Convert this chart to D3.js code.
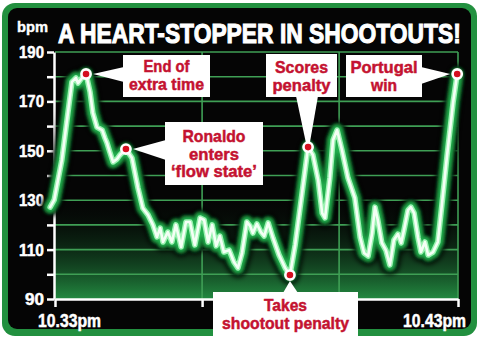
<!doctype html>
<html lang="en">
<head>
<meta charset="utf-8">
<title>A heart-stopper in shootouts</title>
<script src="https://d3js.org/d3.v7.min.js"></script>
<style>
  body { margin: 0; background: #fff; }
  svg text { font-family: 'Liberation Sans', Arial, sans-serif; font-weight: bold; }
</style>
</head>
<body>
<svg id="chart" width="480" height="341"></svg>
<script>
// heart rate, minutes after 10.33pm
var minutes = [-0.12, -0.02, 0.17, 0.42, 0.52, 0.57, 0.67, 0.77, 0.87, 0.94, 1.04, 1.17, 1.24, 1.29, 1.36, 1.44, 1.54, 1.61, 1.76,
  1.91, 2.06, 2.18, 2.31, 2.43, 2.53, 2.61, 2.68, 2.80, 2.90, 3.00, 3.13, 3.25, 3.35, 3.47, 3.60, 3.70, 3.80, 3.90, 4.00,
  4.09, 4.19, 4.32, 4.44, 4.54, 4.64, 4.76, 4.84, 4.91, 5.01, 5.11, 5.19, 5.29, 5.41, 5.56, 5.71, 5.83, 5.96, 6.13, 6.28,
  6.40, 6.53, 6.63, 6.70, 6.82, 6.90, 7.00, 7.12, 7.27, 7.44, 7.57, 7.67, 7.77, 7.87, 7.94, 8.01, 8.11, 8.21, 8.31, 8.41,
  8.51, 8.59, 8.66, 8.76, 8.83, 8.91, 9.01, 9.08, 9.18, 9.26, 9.38, 9.50, 9.60, 9.73, 9.88, 9.98];
var bpm = [127.2, 130.1, 146.3, 177.9, 179.5, 177.4, 179.5, 181.1, 173.8, 165.3, 159.6, 158.4, 155.2, 153.2, 149.5, 145.5, 146.7, 148.3, 150.7,
  147.1, 134.9, 126.8, 124.0, 120.0, 115.1, 118.7, 113.1, 117.1, 113.1, 120.0, 111.1, 121.2, 121.2, 111.9, 122.8, 122.0, 113.1, 120.0, 111.5,
  115.5, 109.0, 109.8, 105.0, 102.6, 108.6, 121.2, 119.6, 116.7, 120.4, 117.1, 115.5, 120.8, 114.7, 107.8, 102.6, 99.7, 111.9, 132.9, 151.5,
  148.3, 138.2, 124.8, 122.8, 139.0, 154.4, 158.4, 150.3, 139.0, 130.9, 115.1, 108.6, 107.4, 116.7, 127.2, 122.0, 112.7, 109.8, 103.8, 113.9,
  116.3, 112.7, 117.9, 126.0, 127.2, 124.8, 114.7, 109.0, 113.1, 107.8, 109.0, 113.1, 128.1, 148.3, 169.8, 181.1];

var yTicks = [90, 100, 110, 120, 130, 140, 150, 160, 170, 180, 190];
var yLabels = [90, 110, 130, 150, 170, 190];
var xGrid = [0, 3.65, 7.05, 10];
var timeLabels = ["10.33pm", "10.43pm"];
var timeMinutes = [0, 10];

var noteMinutes = [0.77, 1.76, 6.28, 9.98, 5.83];
var noteBpm = [181.1, 150.7, 151.5, 181.1, 99.7];
var noteText = [["End of", "extra time"], ["Ronaldo", "enters", "\u2018flow state\u2019"], ["Scores", "penalty"], ["Portugal", "win"], ["Takes", "shootout penalty"]];

// box placement for the call-outs (x, y, w, h), pointer side, line widths
var boxes = [
  {x: 123, y: 55, w: 87, h: 42, side: "left", base: [67, 82], top: 72, lw: [46, 75]},
  {x: 165, y: 122, w: 98, h: 63, side: "left", base: [140, 160], top: 142, lw: [63, 50, 86]},
  {x: 266, y: 54, w: 71, h: 43, side: "down", base: [296, 318], top: 73, lw: [53, 58]},
  {x: 346, y: 55, w: 76, h: 42, side: "right", base: [67, 84], top: 73, lw: [67, 26]},
  {x: 213, y: 292, w: 145, h: 44, side: "up", base: [283, 298], top: 311, lw: [43, 127]}
];

var svg = d3.select("#chart");
var x = d3.scaleLinear().domain([0, 10]).range([55, 458]);
var y = d3.scaleLinear().domain([90, 190]).range([299, 52]);

var defs = svg.append("defs");
var grad = defs.append("linearGradient").attr("id", "floor").attr("x1", 0).attr("y1", 0).attr("x2", 0).attr("y2", 1);
grad.append("stop").attr("offset", "0%").attr("stop-color", "#000").attr("stop-opacity", 0);
grad.append("stop").attr("offset", "100%").attr("stop-color", "#238a41");
[["b3", 2.5], ["b2", 1.6], ["b1", 0.7]].forEach(function(f) {
  defs.append("filter").attr("id", f[0]).attr("x", "-10%").attr("y", "-10%").attr("width", "120%").attr("height", "120%")
    .append("feGaussianBlur").attr("stdDeviation", f[1]);
});

// frame
svg.append("rect").attr("x", 2).attr("y", 3).attr("width", 475).attr("height", 333).attr("rx", 13).attr("fill", "#22903f");
svg.append("rect").attr("x", 8).attr("y", 8).attr("width", 463).attr("height", 321).attr("rx", 9).attr("fill", "#050505");
svg.append("rect").attr("x", x(0)).attr("y", 192).attr("width", x(10) - x(0)).attr("height", 299 - 192).attr("fill", "url(#floor)");

// grid
svg.append("g").selectAll("line").data(yTicks.slice(1)).enter().append("line")
  .attr("x1", x(0)).attr("x2", x(10)).attr("y1", function(d) { return y(d); }).attr("y2", function(d) { return y(d); })
  .attr("stroke", "#3f9f55").attr("stroke-width", 1.6);
svg.append("g").selectAll("line").data(xGrid.slice(1)).enter().append("line")
  .attr("x1", function(d) { return x(d); }).attr("x2", function(d) { return x(d); }).attr("y1", y(190)).attr("y2", y(90))
  .attr("stroke", "#3f9f55").attr("stroke-width", 1.6);

// axes
var ya = svg.append("g").attr("transform", "translate(" + (x(0) - 1) + ",0)")
  .call(d3.axisLeft(y).tickValues(yTicks).tickSize(7).tickSizeOuter(0).tickPadding(3)
    .tickFormat(function(d) { return yLabels.indexOf(d) >= 0 ? d : ""; }));
var xa = svg.append("g").attr("transform", "translate(0," + y(90) + ")")
  .call(d3.axisBottom(x).tickValues(xGrid).tickSize(8).tickSizeOuter(0).tickFormat(""));
[ya, xa].forEach(function(a) {
  a.selectAll("path, line").attr("stroke", "#fff").attr("stroke-width", 2.5);
});
ya.selectAll("text").attr("fill", "#fff").attr("stroke", "#fff").attr("stroke-width", 0.5).style("font-size", "17px")
  .attr("textLength", function(d) { return d >= 100 ? 25 : 19; }).attr("lengthAdjust", "spacingAndGlyphs");

svg.selectAll(".time").data(timeLabels).enter().append("text")
  .attr("x", function(d, i) { return i === 0 ? x(timeMinutes[i]) - 17 : x(timeMinutes[i]) + 8; })
  .attr("y", 327).attr("text-anchor", function(d, i) { return i === 0 ? "start" : "end"; })
  .attr("fill", "#fff").attr("stroke", "#fff").attr("stroke-width", 0.5).style("font-size", "18.5px")
  .attr("textLength", 63).attr("lengthAdjust", "spacingAndGlyphs")
  .text(function(d) { return d; });

// glowing trace
var pts = minutes.map(function(m, i) { return [x(m), y(bpm[i])]; });
var line = d3.line().curve(d3.curveLinear);
var layers = [
  {c: "#000", w: 19, o: 0.9, f: "b3"},
  {c: "#0b5a22", w: 14.5, o: 1, f: "b2"},
  {c: "#22ad4e", w: 10, o: 1, f: "b2"},
  {c: "#9cf2b2", w: 5.5, o: 1, f: "b1"},
  {c: "#f4fff5", w: 2.6, o: 1, f: null}
];
layers.forEach(function(l) {
  var p = svg.append("path").attr("d", line(pts)).attr("fill", "none").attr("stroke", l.c)
    .attr("stroke-width", l.w).attr("stroke-opacity", l.o).attr("stroke-linejoin", "round").attr("stroke-linecap", "round");
  if (l.f) p.attr("filter", "url(#" + l.f + ")");
});

// call-outs
boxes.forEach(function(b, i) {
  var mx = x(noteMinutes[i]), my = y(noteBpm[i]), tri;
  if (b.side === "left") tri = [[b.x + 1, b.base[0]], [b.x + 1, b.base[1]], [mx + 7, my]];
  if (b.side === "right") tri = [[b.x + b.w - 1, b.base[0]], [b.x + b.w - 1, b.base[1]], [mx - 7, my]];
  if (b.side === "down") tri = [[b.base[0], b.y + b.h - 1], [b.base[1], b.y + b.h - 1], [mx, my + 6]];
  if (b.side === "up") tri = [[b.base[0], b.y + 1], [b.base[1], b.y + 1], [mx, my + 6]];
  svg.append("polygon").attr("points", tri.map(function(p) { return p.join(","); }).join(" ")).attr("fill", "#fff");
  svg.append("rect").attr("x", b.x).attr("y", b.y).attr("width", b.w).attr("height", b.h).attr("fill", "#fff");
  noteText[i].forEach(function(t, j) {
    svg.append("text").attr("x", b.x + b.w / 2).attr("y", b.top + j * 17.5).attr("text-anchor", "middle")
      .attr("fill", "#c41230").attr("stroke", "#c41230").attr("stroke-width", 0.5).style("font-size", "17px")
      .attr("textLength", b.lw[j]).attr("lengthAdjust", "spacingAndGlyphs")
      .text(t);
  });
});

svg.selectAll(".dot").data(noteMinutes).enter().append("circle")
  .attr("cx", function(d) { return x(d); }).attr("cy", function(d, i) { return y(noteBpm[i]); })
  .attr("r", 4.6).attr("fill", "#d40f1f").attr("stroke", "#fff").attr("stroke-width", 2.6);

// headings
svg.append("text").attr("x", 17).attr("y", 32).attr("fill", "#fff").attr("stroke", "#fff").attr("stroke-width", 0.4)
  .style("font-size", "15px").attr("textLength", 31).attr("lengthAdjust", "spacingAndGlyphs").text("bpm");
// title squeezed sideways to fit the header width
var title = svg.append("text").attr("x", 0).attr("y", 0).attr("fill", "#fff").style("font-size", "28px")
  .attr("stroke", "#fff").attr("stroke-width", 1.1).text("A HEART-STOPPER IN SHOOTOUTS!");
var sx = 403 / title.node().getComputedTextLength();
title.attr("transform", "translate(58,43) scale(" + sx + ",1)");
</script>
</body>
</html>
